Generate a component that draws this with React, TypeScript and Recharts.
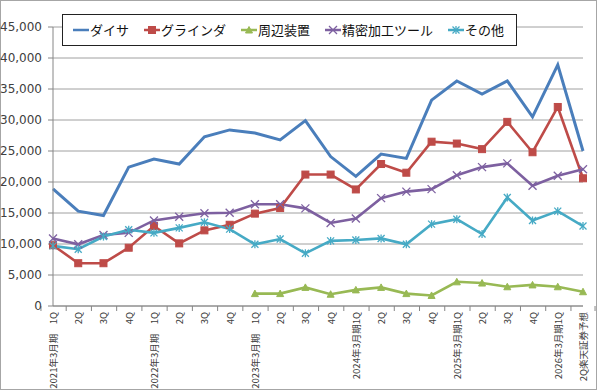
import React from "react";
import { ComposedChart, Line, XAxis, YAxis, CartesianGrid } from "recharts";

const categories = [
  "2021年3月期　1Q", "2Q", "3Q", "4Q",
  "2022年3月期　1Q", "2Q", "3Q", "4Q",
  "2023年3月期　1Q", "2Q", "3Q", "4Q",
  "2024年3月期1Q", "2Q", "3Q", "4Q",
  "2025年3月期1Q", "2Q", "3Q", "4Q",
  "2026年3月期1Q", "2Q楽天証券予想",
];

const daisa = [18900, 15300, 14600, 22400, 23700, 22900, 27300, 28400, 27900, 26800, 29900, 24100, 20900, 24500, 23800, 33200, 36300, 34200, 36300, 30500, 38900, 25000];
const grinder = [9800, 6900, 6900, 9400, 12900, 10100, 12200, 13100, 14900, 15800, 21200, 21200, 18800, 22900, 21500, 26500, 26200, 25300, 29700, 24800, 32100, 20600];
const peripheral: (number | null)[] = [null, null, null, null, null, null, null, null, 2000, 2000, 3000, 1900, 2600, 3000, 2000, 1700, 3900, 3700, 3100, 3400, 3100, 2300];
const precision = [10900, 9950, 11450, 11800, 13800, 14400, 14950, 15050, 16400, 16400, 15750, 13400, 14100, 17400, 18450, 18850, 21100, 22400, 23000, 19400, 21000, 22050];
const others = [9700, 9150, 11200, 12300, 11800, 12600, 13500, 12400, 9950, 10800, 8500, 10500, 10650, 10900, 9950, 13200, 14000, 11600, 17500, 13800, 15300, 12900];

const yTicks = [0, 5000, 10000, 15000, 20000, 25000, 30000, 35000, 40000, 45000];

const seriesNames = ["ダイサ", "グラインダ", "周辺装置", "精密加工ツール", "その他"];
const seriesKeys = ["daisa", "grinder", "peripheral", "precision", "others"];
const seriesColors = ["#4A7EBB", "#BE4B48", "#98B954", "#7D60A0", "#46AAC5"];
const seriesMarkers = ["none", "square", "triangle", "x", "star"];

const data = categories.map((c, i) => ({
  cat: c,
  daisa: daisa[i],
  grinder: grinder[i],
  peripheral: peripheral[i],
  precision: precision[i],
  others: others[i],
}));

const W = 600;
const H = 392;
const PLOT_LEFT = 53;
const PLOT_RIGHT = 583;
const PLOT_TOP = 27;
const PLOT_BOTTOM = 306;
const BAND = (PLOT_RIGHT - PLOT_LEFT) / categories.length;

function Marker({ type, cx, cy, color }: { type: string; cx: number; cy: number; color: string }) {
  if (type === "square") {
    return <rect x={cx - 3.5} y={cy - 3.5} width={7} height={7} fill={color} stroke={color} strokeWidth={1} />;
  }
  if (type === "triangle") {
    return <polygon points={`${cx},${cy - 3.5} ${cx + 3.5},${cy + 3} ${cx - 3.5},${cy + 3}`} fill={color} stroke={color} strokeWidth={1} />;
  }
  if (type === "x") {
    return (
      <g stroke={color} strokeWidth={1.3}>
        <line x1={cx - 4} y1={cy - 4} x2={cx + 4} y2={cy + 4} />
        <line x1={cx - 4} y1={cy + 4} x2={cx + 4} y2={cy - 4} />
      </g>
    );
  }
  if (type === "star") {
    return (
      <g stroke={color} strokeWidth={1.3}>
        <line x1={cx - 3.5} y1={cy - 3.5} x2={cx + 3.5} y2={cy + 3.5} />
        <line x1={cx - 3.5} y1={cy + 3.5} x2={cx + 3.5} y2={cy - 3.5} />
        <line x1={cx} y1={cy - 4} x2={cx} y2={cy + 4} />
      </g>
    );
  }
  return null;
}

const makeDot = (type: string, color: string) => (props: any) => {
  const { cx, cy, index, value } = props;
  if (cx == null || cy == null || value == null || type === "none") return <g key={`d-${index}`} />;
  return (
    <g key={`d-${index}`}>
      <Marker type={type} cx={cx} cy={cy} color={color} />
    </g>
  );
};

const XTick = (props: any) => {
  const { x, payload, index } = props;
  const y0 = PLOT_BOTTOM;
  const last = index === categories.length - 1;
  return (
    <g>
      <line x1={x - BAND / 2} x2={x - BAND / 2} y1={y0} y2={y0 + 5} stroke="#868686" strokeWidth={1} />
      {last && <line x1={x + BAND / 2} x2={x + BAND / 2} y1={y0} y2={y0 + 5} stroke="#868686" strokeWidth={1} />}
      <text
        transform={`translate(${x},${y0 + 6}) rotate(-90)`}
        textAnchor="end"
        dominantBaseline="central"
        fontSize={9.5}
        fontFamily="'Noto Sans CJK JP', sans-serif"
        fill="#404040"
      >
        {payload.value}
      </text>
    </g>
  );
};

function LegendBox() {
  return (
    <div
      style={{
        position: "absolute",
        left: 62,
        top: 14,
        width: 455,
        height: 32,
        border: "1px solid #222",
        boxSizing: "border-box",
        background: "#fff",
        display: "flex",
        alignItems: "center",
        paddingLeft: 10,
        fontFamily: "'Noto Sans CJK JP', sans-serif",
        fontSize: 13,
        color: "#111",
        whiteSpace: "nowrap",
        overflow: "hidden",
      }}
    >
      {seriesNames.map((n, i) => (
        <div key={n} style={{ display: "flex", alignItems: "center", marginRight: 15, flexShrink: 0 }}>
          <svg width={16} height={12} style={{ marginRight: 1, flexShrink: 0 }}>
            <line x1={0} y1={6} x2={16} y2={6} stroke={seriesColors[i]} strokeWidth={2.5} />
            <Marker type={seriesMarkers[i]} cx={8} cy={6} color={seriesColors[i]} />
          </svg>
          <span style={{ lineHeight: "14px", whiteSpace: "nowrap" }}>{n}</span>
        </div>
      ))}
    </div>
  );
}

export default function App() {
  return (
    <div style={{ position: "absolute", left: 0, top: 0, width: W, height: H, background: "#fff" }}>
      <div
        style={{
          position: "absolute",
          left: 0,
          top: 0,
          width: 597,
          height: 390,
          border: "1.5px solid #a6a6a6",
          boxSizing: "border-box",
        }}
      />
      <ComposedChart
        width={W}
        height={H}
        data={data}
        margin={{ top: PLOT_TOP, right: W - PLOT_RIGHT, bottom: 0, left: 0 }}
      >
        <CartesianGrid vertical={false} stroke="#a0a0a0" strokeWidth={1} />
        <XAxis
          dataKey="cat"
          height={H - PLOT_BOTTOM}
          interval={0}
          tickLine={false}
          tickSize={0}
          tickMargin={0}
          axisLine={{ stroke: "#868686" }}
          tick={<XTick />}
        />
        <YAxis
          width={PLOT_LEFT}
          domain={[0, 45000]}
          ticks={yTicks}
          interval={0}
          tickSize={5}
          tickMargin={6}
          axisLine={{ stroke: "#868686" }}
          tickLine={{ stroke: "#868686" }}
          tickFormatter={(v: number) => v.toLocaleString("en-US")}
          tick={{ fontSize: 12, fontFamily: "'DejaVu Sans', sans-serif", fill: "#404040" }}
        />
        {seriesKeys.map((k, i) => (
          <Line
            key={k}
            type="linear"
            dataKey={k}
            name={seriesNames[i]}
            stroke={seriesColors[i]}
            strokeWidth={i === 0 ? 3 : 2.6}
            dot={makeDot(seriesMarkers[i], seriesColors[i])}
            activeDot={false}
            isAnimationActive={false}
            connectNulls={false}
          />
        ))}
      </ComposedChart>
      <LegendBox />
    </div>
  );
}
